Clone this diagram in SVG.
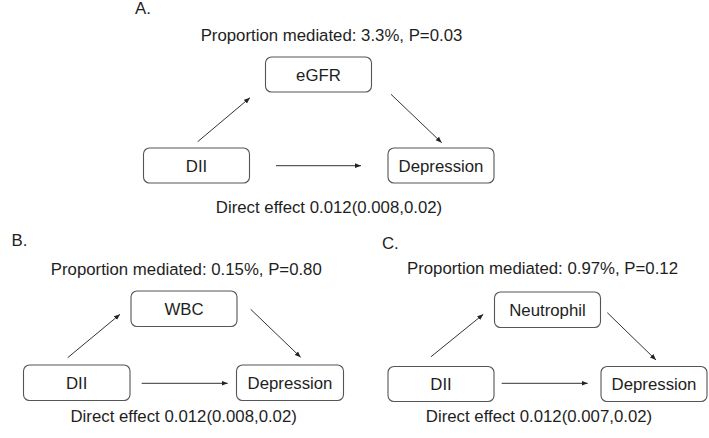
<svg xmlns="http://www.w3.org/2000/svg" width="709" height="438" viewBox="0 0 709 438">
<defs>
<marker id="ah" viewBox="0 0 10 10" refX="10" refY="5" markerWidth="6" markerHeight="6" markerUnits="userSpaceOnUse" orient="auto">
<path d="M0,1 L10,5 L0,9 z" fill="#222"/>
</marker>
<style>
text{font-family:"Liberation Sans",Arial,sans-serif;font-size:16.8px;fill:#1e1e1e}
.box{fill:#fff;stroke:#555;stroke-width:1.1}
.c{text-anchor:middle}
.edge{stroke:#333;stroke-width:1;fill:none;marker-end:url(#ah)}
</style>
</defs>
<rect width="709" height="438" fill="#fff"/>
<text x="135" y="14">A.</text>
<text class="c" x="331.5" y="41">Proportion mediated: 3.3%, P=0.03</text>
<text class="c" x="329" y="213">Direct effect 0.012(0.008,0.02)</text>
<text x="11.5" y="246">B.</text>
<text class="c" x="186.3" y="275">Proportion mediated: 0.15%, P=0.80</text>
<text class="c" x="183.7" y="422">Direct effect 0.012(0.008,0.02)</text>
<text x="382" y="249">C.</text>
<text class="c" x="542.5" y="273.5">Proportion mediated: 0.97%, P=0.12</text>
<text class="c" x="539" y="422">Direct effect 0.012(0.007,0.02)</text>
<g id="a-egfr"><rect class="box" x="265.5" y="57" width="106" height="35" rx="6"/><text class="c" x="318.5" y="80.5">eGFR</text></g>
<g id="a-dii"><rect class="box" x="143.5" y="148" width="106" height="35" rx="6"/><text class="c" x="196.5" y="171.5">DII</text></g>
<g id="a-dep"><rect class="box" x="388" y="148" width="106" height="35" rx="6"/><text class="c" x="441" y="171.5">Depression</text></g>
<g id="b-wbc"><rect class="box" x="131" y="291" width="106" height="35.5" rx="6"/><text class="c" x="184" y="314.5">WBC</text></g>
<g id="b-dii"><rect class="box" x="23.5" y="365" width="106.5" height="35.5" rx="6"/><text class="c" x="76.7" y="388.5">DII</text></g>
<g id="b-dep"><rect class="box" x="236.5" y="365" width="107" height="35.5" rx="6"/><text class="c" x="290" y="388.5">Depression</text></g>
<g id="c-neu"><rect class="box" x="494.5" y="292" width="106" height="35.5" rx="6"/><text class="c" x="547.5" y="315.5">Neutrophil</text></g>
<g id="c-dii"><rect class="box" x="388" y="366.5" width="106" height="35" rx="6"/><text class="c" x="441" y="390">DII</text></g>
<g id="c-dep"><rect class="box" x="601" y="366.5" width="106" height="35" rx="6"/><text class="c" x="654" y="390">Depression</text></g>
<g id="connectors">
<line class="edge" x1="197.7" y1="141.7" x2="250" y2="97.7"/>
<line class="edge" x1="391" y1="94.3" x2="441.7" y2="142.7"/>
<line class="edge" x1="276" y1="165.7" x2="361" y2="165.7"/>
<line class="edge" x1="67.7" y1="357.7" x2="120" y2="314.3"/>
<line class="edge" x1="250.7" y1="309.3" x2="300.7" y2="357.3"/>
<line class="edge" x1="141.7" y1="383.3" x2="227.7" y2="383.3"/>
<line class="edge" x1="431" y1="356.7" x2="483.3" y2="314.3"/>
<line class="edge" x1="607.3" y1="312.7" x2="656" y2="360"/>
<line class="edge" x1="501.7" y1="383.3" x2="587.7" y2="383.3"/>
</g>
</svg>
